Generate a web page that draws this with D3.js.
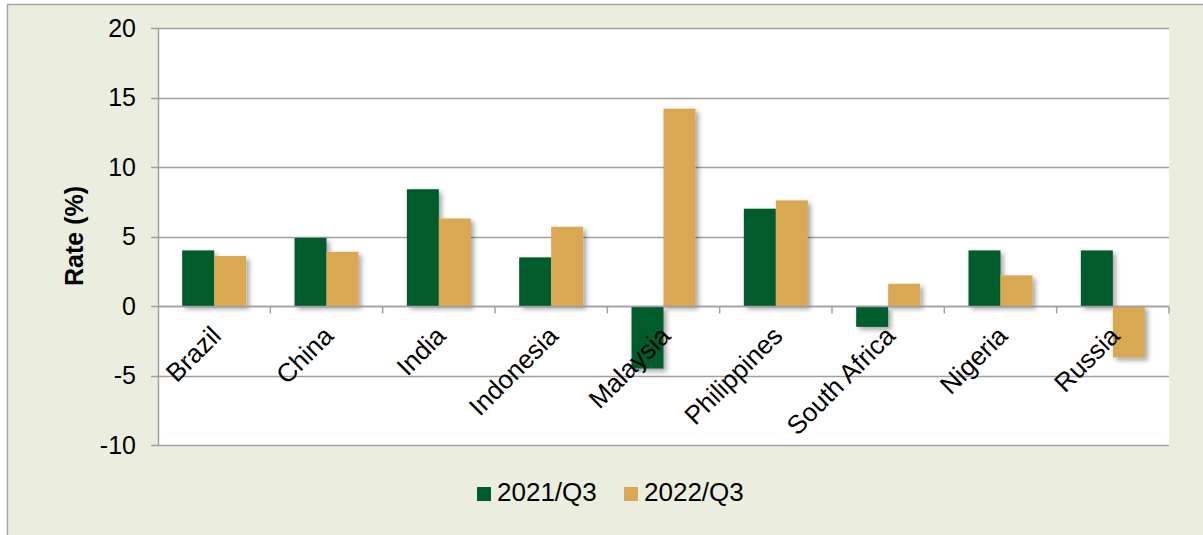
<!DOCTYPE html>
<html>
<head>
<meta charset="utf-8">
<script src="https://cdn.jsdelivr.net/npm/d3@7"></script>
<style>
  html, body { margin: 0; padding: 0; background: #fff; }
  svg { display: block; font-family: "Liberation Sans", Arial, sans-serif; }
</style>
</head>
<body>
<svg id="chart" width="1203" height="535"></svg>
<script>
const categories = ["Brazil", "China", "India", "Indonesia", "Malaysia", "Philippines", "South Africa", "Nigeria", "Russia"];
const seriesNames = ["2021/Q3", "2022/Q3"];
const values2021 = [4.0, 4.9, 8.4, 3.5, -4.5, 7.0, -1.5, 4.0, 4.0];
const values2022 = [3.6, 3.9, 6.3, 5.7, 14.2, 7.6, 1.6, 2.2, -3.7];
const yTicks = [-10, -5, 0, 5, 10, 15, 20];
const colors = ["#005C2A", "#D8A852"];

const svg = d3.select("#chart");
const W = 1203, H = 535;
const plot = { left: 158, right: 1169, top: 28, bottom: 445 };

// outer background
svg.append("rect").attr("x", 0).attr("y", 0).attr("width", W).attr("height", H).attr("fill", "#fff");
svg.append("rect").attr("x", 7.5).attr("y", 4.5).attr("width", W).attr("height", H)
  .attr("fill", "#EBEEDF").attr("stroke", "#A6A6A6").attr("stroke-width", 1.5);

const defs = svg.append("defs");
const f = defs.append("filter").attr("id", "shadow").attr("x", "-20%").attr("y", "-20%").attr("width", "150%").attr("height", "150%");
f.append("feDropShadow").attr("dx", 3).attr("dy", 3).attr("stdDeviation", 2.5)
  .attr("flood-color", "#000").attr("flood-opacity", 0.35);

// plot area
svg.append("rect").attr("x", plot.left).attr("y", plot.top)
  .attr("width", plot.right - plot.left).attr("height", plot.bottom - plot.top).attr("fill", "#fff");

const y = d3.scaleLinear().domain([-10, 20]).range([plot.bottom, plot.top]);
const x0 = d3.scaleBand().domain(categories).range([plot.left, plot.right]).padding(0);
const x1 = d3.scaleBand().domain(seriesNames).range([0, x0.bandwidth()]).paddingInner(0).paddingOuter(0.756);

// gridlines
svg.append("g").selectAll("line").data(yTicks).join("line")
  .attr("x1", plot.left - 7).attr("x2", plot.right)
  .attr("y1", d => Math.round(y(d)) + 0.5).attr("y2", d => Math.round(y(d)) + 0.5)
  .attr("stroke", "#A0A0A0").attr("stroke-width", 1.5);

// y axis line
svg.append("line").attr("x1", plot.left + 0.5).attr("x2", plot.left + 0.5)
  .attr("y1", plot.top).attr("y2", plot.bottom)
  .attr("stroke", "#A0A0A0").attr("stroke-width", 1.5);

// y tick labels
svg.append("g").selectAll("text").data(yTicks).join("text")
  .attr("x", 136).attr("y", d => y(d)).attr("dy", "0.35em")
  .attr("text-anchor", "end").attr("font-size", 25).attr("fill", "#000")
  .text(d => d);

// y title
svg.append("text").attr("transform", `translate(83,236) rotate(-90)`)
  .attr("text-anchor", "middle").attr("font-size", 25).attr("font-weight", "bold")
  .text("Rate (%)");

// bars
const data = [];
categories.forEach((c, i) => {
  data.push({ c, s: seriesNames[0], v: values2021[i], k: 0 });
  data.push({ c, s: seriesNames[1], v: values2022[i], k: 1 });
});
svg.append("g").attr("filter", "url(#shadow)").selectAll("rect").data(data).join("rect")
  .attr("x", d => x0(d.c) + x1(d.s))
  .attr("width", x1.bandwidth())
  .attr("y", d => y(Math.max(0, d.v)))
  .attr("height", d => Math.abs(y(d.v) - y(0)))
  .attr("fill", d => colors[d.k]);

// category axis line + ticks
const zeroY = Math.round(y(0)) + 0.5;
svg.append("line").attr("x1", plot.left).attr("x2", plot.right)
  .attr("y1", zeroY).attr("y2", zeroY).attr("stroke", "#A0A0A0").attr("stroke-width", 1.5);
const bounds = categories.map(c => x0(c) + x0.bandwidth());
svg.append("g").selectAll("line").data(bounds).join("line")
  .attr("x1", d => d).attr("x2", d => d)
  .attr("y1", zeroY).attr("y2", zeroY + 7)
  .attr("stroke", "#A0A0A0").attr("stroke-width", 1.5);

// category labels
svg.append("g").selectAll("text").data(categories).join("text")
  .attr("transform", d => `translate(${x0(d) + x0.bandwidth() / 2 + 2},331) rotate(-45)`)
  .attr("text-anchor", "end").attr("dy", "0.35em").attr("font-size", 26).attr("fill", "#000")
  .text(d => d);

// legend
const legendX = [477, 624];
const lg = svg.append("g");
seriesNames.forEach((s, i) => {
  lg.append("rect").attr("x", legendX[i]).attr("y", 487).attr("width", 14).attr("height", 14).attr("fill", colors[i]);
  lg.append("text").attr("x", legendX[i] + 20).attr("y", 501).attr("font-size", 26).attr("fill", "#000").text(s);
});
</script>
</body>
</html>
